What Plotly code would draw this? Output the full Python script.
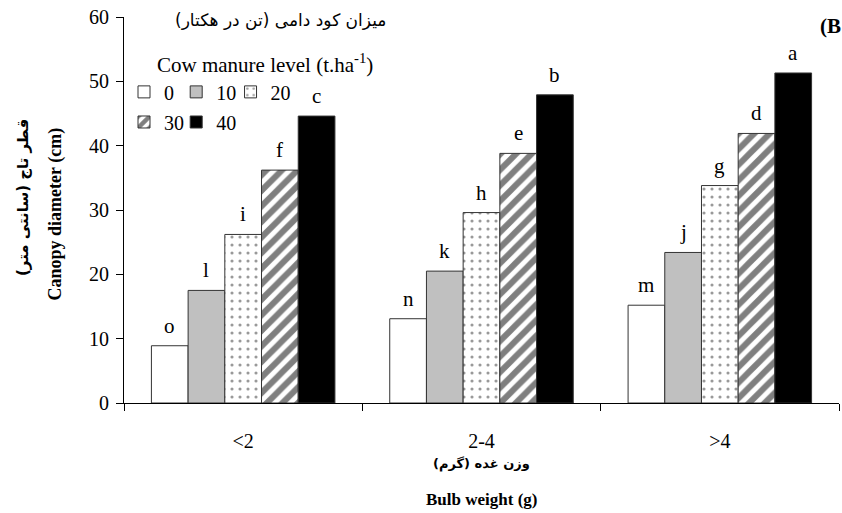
import plotly.graph_objects as go

categories = ["<2", "2-4", ">4"]
levels = ["0", "10", "20", "30", "40"]
values = {
    "0": [8.9, 13.1, 15.2],
    "10": [17.5, 20.5, 23.4],
    "20": [26.2, 29.6, 33.8],
    "30": [36.2, 38.8, 41.9],
    "40": [44.6, 47.9, 51.3],
}
letters = {
    "0": ["o", "n", "m"],
    "10": ["l", "k", "j"],
    "20": ["i", "h", "g"],
    "30": ["f", "e", "d"],
    "40": ["c", "b", "a"],
}
tick_vals = [0, 10, 20, 30, 40, 50, 60]

SERIF = "Liberation Serif, Times New Roman, serif"
FA = "DejaVu Sans, Noto Sans, sans-serif"

styles = {
    "0": dict(color="white", pattern=None),
    "10": dict(color="#c0c0c0", pattern=None),
    "20": dict(color="white", pattern=dict(shape=".", fgcolor="#333333", bgcolor="white", size=8, solidity=0.12)),
    "30": dict(color="white", pattern=dict(shape="/", fgcolor="black", bgcolor="white", size=11, solidity=0.55)),
    "40": dict(color="black", pattern=None),
}

# one legend per entry so the 3 + 2 layout of the reference can be reproduced
legend_slots = {
    "0": ("legend", 0.0, 0.806),
    "10": ("legend2", 0.073, 0.806),
    "20": ("legend3", 0.149, 0.806),
    "30": ("legend4", 0.0, 0.728),
    "40": ("legend5", 0.073, 0.728),
}

fig = go.Figure()
for i, lv in enumerate(levels):
    st = styles[lv]
    marker = dict(color=st["color"], line=dict(color="#333333", width=1))
    if st["pattern"]:
        marker["pattern"] = st["pattern"]
    fig.add_trace(go.Bar(
        x=categories, y=values[lv], name=lv, marker=marker,
        legend=legend_slots[lv][0],
    ))

bargap = 0.23
n = len(levels)
bw = (1 - bargap) / n
annotations = []
for i, lv in enumerate(levels):
    for k, cat in enumerate(categories):
        xc = k - (1 - bargap) / 2 + bw * (i + 0.5)
        annotations.append(dict(
            x=xc, y=values[lv][k], xref="x", yref="y", text=letters[lv][k],
            showarrow=False, yanchor="bottom", yshift=6,
            font=dict(family=SERIF, size=21, color="black"),
        ))

annotations += [
    dict(x=0, y=0.5, xref="paper", yref="paper", xshift=-57, yshift=-4, text="<b>Canopy diameter (cm)</b>",
         textangle=-90, showarrow=False, xanchor="right", yanchor="middle",
         font=dict(family=SERIF, size=18, color="black")),
    dict(x=0, y=0.5, xref="paper", yref="paper", xshift=-90, yshift=12, text="<b>قطر تاج (سانتی متر)</b>",
         textangle=-90, showarrow=False, xanchor="right", yanchor="middle",
         font=dict(family=FA, size=15, color="black")),
    dict(x=0.5, y=0, xref="paper", yref="paper", yshift=-61, text="<b>وزن غده (گرم)</b>",
         showarrow=False, xanchor="center", yanchor="middle",
         font=dict(family=FA, size=13, color="black")),
    dict(x=0.5, y=0, xref="paper", yref="paper", yshift=-96, text="<b>Bulb weight (g)</b>",
         showarrow=False, xanchor="center", yanchor="middle",
         font=dict(family=SERIF, size=17, color="black")),
    dict(x=1, y=1, xref="paper", yref="paper", xshift=4, yshift=-9, text="<b>(B</b>",
         showarrow=False, xanchor="right", yanchor="middle",
         font=dict(family=SERIF, size=21, color="black")),
    dict(x=0.219, y=1, xref="paper", yref="paper", yshift=-3, text="میزان کود دامی (تن در هکتار)",
         showarrow=False, xanchor="center", yanchor="middle",
         font=dict(family=FA, size=17, color="black")),
    dict(x=0.043, y=1, xref="paper", yref="paper", yshift=-46, text="Cow manure level (t.ha<sup>-1</sup>)",
         showarrow=False, xanchor="left", yanchor="middle",
         font=dict(family=SERIF, size=21, color="black")),
]

layout_legends = {}
for lv in levels:
    name, lx, ly = legend_slots[lv]
    layout_legends[name] = dict(
        orientation="h", x=lx, y=ly, xanchor="left", yanchor="middle",
        bgcolor="rgba(0,0,0,0)", font=dict(family=SERIF, size=20, color="black"),
        itemwidth=30, borderwidth=0,
    )

fig.update_layout(
    width=842, height=513,
    margin=dict(l=124, r=3, t=17, b=110),
    paper_bgcolor="white", plot_bgcolor="white",
    barmode="group", bargap=bargap, bargroupgap=0,
    font=dict(family=SERIF, size=20, color="black"),
    annotations=annotations,
    showlegend=True,
    xaxis=dict(
        type="category", showline=True, linecolor="black", linewidth=1,
        ticks="outside", tickson="boundaries", ticklen=7, tickcolor="black",
        tickfont=dict(family=SERIF, size=20), showgrid=False, range=[-0.5, 2.5],
        ticklabelstandoff=20,
    ),
    yaxis=dict(
        range=[0, 60], tickvals=tick_vals, showline=True, linecolor="black", linewidth=1,
        ticks="outside", ticklen=7, tickcolor="black", showgrid=False, zeroline=False,
        tickfont=dict(family=SERIF, size=20), ticklabelstandoff=3,
    ),
    **layout_legends,
)

fig.write_html("out.html", config={"displayModeBar": False})
with open("out.html", "r", encoding="utf-8") as f:
    html = f.read()
html = html.replace("<head>", "<head><style>html,body{margin:0;padding:0;overflow:hidden;}</style>", 1)
with open("out.html", "w", encoding="utf-8") as f:
    f.write(html)
